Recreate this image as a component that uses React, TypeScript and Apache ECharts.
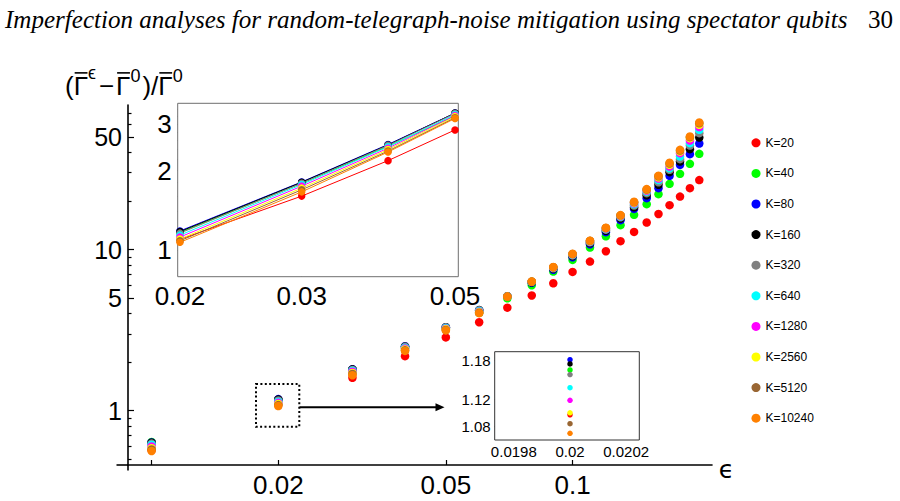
import React, { useEffect, useRef } from "react";
import * as echarts from "echarts";

// ε values (noise strength) at which the relative decoherence-rate change was evaluated
const EPSILON = [0.01, 0.02, 0.03, 0.04, 0.05, 0.06, 0.07, 0.08, 0.09, 0.1, 0.11, 0.12, 0.13, 0.14, 0.15, 0.16, 0.17, 0.18, 0.19, 0.2];

// (Γ̄^ε − Γ̄^0)/Γ̄^0 for each number of spectator samples K
const K20 = [0.57, 1.097, 1.6, 2.18, 2.85, 3.54, 4.36, 5.19, 6.18, 7.27, 8.42, 9.77, 11.28, 12.88, 14.72, 16.64, 18.87, 21.34, 24.06, 27.0];
const K40 = [0.64, 1.165, 1.79, 2.47, 3.22, 4.05, 4.98, 6.01, 7.3, 8.63, 10.29, 12.08, 14.18, 16.43, 19.14, 22.09, 25.59, 29.53, 34.07, 39.3];
const K80 = [0.635, 1.1805, 1.81, 2.51, 3.3, 4.2, 5.12, 6.22, 7.5, 8.97, 10.8, 12.83, 15.23, 17.89, 20.86, 24.06, 28.7, 33.59, 39.13, 45.5];
const K160 = [0.632, 1.174, 1.805, 2.5, 3.3, 4.21, 5.13, 6.27, 7.6, 9.1, 10.98, 13.1, 15.6, 18.29, 21.71, 25.23, 30.25, 35.21, 42.04, 49.6];
const K320 = [0.625, 1.158, 1.79, 2.49, 3.29, 4.2, 5.13, 6.3, 7.66, 9.2, 11.1, 13.3, 15.85, 18.77, 22.4, 26.2, 31.26, 36.42, 44.26, 52.8];
const K640 = [0.615, 1.138, 1.77, 2.46, 3.26, 4.16, 5.12, 6.31, 7.71, 9.28, 11.2, 13.42, 16.02, 19.1, 22.9, 27.0, 32.0, 37.82, 45.8, 55.4];
const K1280 = [0.6, 1.119, 1.745, 2.43, 3.23, 4.12, 5.11, 6.32, 7.74, 9.33, 11.27, 13.52, 16.15, 19.35, 23.2, 27.6, 32.78, 39.7, 47.53, 57.6];
const K2560 = [0.585, 1.1, 1.715, 2.4, 3.2, 4.09, 5.11, 6.33, 7.76, 9.37, 11.3, 13.58, 16.25, 19.55, 23.45, 28.1, 33.6, 40.6, 49.19, 59.5];
const K5120 = [0.575, 1.0835, 1.69, 2.37, 3.17, 4.06, 5.11, 6.33, 7.78, 9.39, 11.33, 13.62, 16.32, 19.7, 23.6, 28.5, 34.2, 41.2, 49.9, 60.8];
const K10240 = [0.562, 1.069, 1.66, 2.35, 3.15, 4.03, 5.11, 6.34, 7.8, 9.42, 11.36, 13.66, 16.38, 19.8, 23.75, 28.75, 34.6, 41.63, 50.34, 61.5];

const SERIES_NAMES = ["K=20", "K=40", "K=80", "K=160", "K=320", "K=640", "K=1280", "K=2560", "K=5120", "K=10240"];
const SERIES_VALUES = [K20, K40, K80, K160, K320, K640, K1280, K2560, K5120, K10240];
const SERIES_COLORS = ["#ff0000", "#00ff00", "#0000ff", "#000000", "#808080", "#00ffff", "#ff00ff", "#ffff00", "#996633", "#ff8000"];

// tick positions
const MAIN_X_TICKS = [0.01, 0.02, 0.05, 0.1];
const MAIN_X_LABELS = [0.02, 0.05, 0.1];
const MAIN_Y_MAJOR = [1, 5, 10, 50];
const MAIN_Y_MINOR = [0.5, 0.6, 0.7, 0.8, 0.9, 2, 3, 4, 6, 7, 8, 9, 20, 30, 40, 60, 70];
const INSET_X_TICKS = [0.02, 0.03, 0.05];
const INSET_Y_MAJOR = [1, 2, 3];
const INSET_Y_MINOR = [0.8, 1.2, 1.4, 1.6, 1.8, 2.2, 2.4, 2.6, 2.8, 3.2, 3.4];
const ZOOM_X_TICKS = [0.0198, 0.02, 0.0202];
const ZOOM_Y_TICKS = [1.08, 1.12, 1.18];

// ranges shown by the main plot and the two insets
const INSET_EPS_RANGE = [0.02, 0.05];
const ZOOM_EPS = 0.02;

const HEADER = "Imperfection analyses for random-telegraph-noise mitigation using spectator qubits";
const PAGE_NO = "30";

const SANS = '"Liberation Sans", Arial, sans-serif';
const SERIF = '"Liberation Serif", "Times New Roman", serif';

const fmt = (v: number) => String(parseFloat(Number(v).toPrecision(6)));

function measure(text: string, size: number, family: string, style = "") {
  const ctx = document.createElement("canvas").getContext("2d");
  if (!ctx) return text.length * size * 0.55;
  ctx.font = `${style} ${size}px ${family}`;
  return ctx.measureText(text).width;
}

// y-axis title (Γ̄^ϵ − Γ̄^0)/Γ̄^0 assembled from pieces, with bars drawn over each Γ
function yTitleGraphics(): any[] {
  const big = 26;
  const small = 18;
  const baseline = 95;
  const pieces: { t: string; sup?: boolean; bar?: boolean; padL?: number; padR?: number; base?: number }[] = [
    { t: "(" },
    { t: "Γ", bar: true },
    { t: "ϵ", sup: true, base: 79 },
    { t: "−", padL: 2, padR: 2 },
    { t: "Γ", bar: true },
    { t: "0", sup: true, base: 82 },
    { t: ")/", padL: 1 },
    { t: "Γ", bar: true },
    { t: "0", sup: true, base: 82 },
  ];
  const out: any[] = [];
  let x = 65;
  for (const p of pieces) {
    const size = p.sup ? small : big;
    x += p.padL || 0;
    const w = measure(p.t, size, SANS);
    const base = p.base ?? baseline;
    out.push({
      type: "text",
      x,
      y: base - 0.3465 * size,
      style: { text: p.t, fill: "#000", fontSize: size, fontFamily: SANS, align: "left", verticalAlign: "middle" },
    });
    if (p.bar) {
      out.push({
        type: "line",
        shape: { x1: x + 1, y1: baseline - 0.716 * big - 3.5, x2: x + w - 0.5, y2: baseline - 0.716 * big - 3.5 },
        style: { stroke: "#000", lineWidth: 1.6 },
      });
    }
    x += w + (p.padR || 0) + (p.sup ? 1 : 0);
  }
  return out;
}

function buildOption(): any {
  const headerSize0 = 20;
  const headerW = measure(HEADER, headerSize0, SERIF, "italic");
  const headerSize = headerSize0 * (843 / headerW);

  const pairs = (vals: number[]) => EPSILON.map((e, i) => [e, vals[i]]);
  const insetPairs = (vals: number[]) =>
    EPSILON.map((e, i) => [e, vals[i]]).filter(([e]) => e >= INSET_EPS_RANGE[0] - 1e-9 && e <= INSET_EPS_RANGE[1] + 1e-9);
  const zoomPairs = (vals: number[]) =>
    EPSILON.map((e, i) => [e, vals[i]]).filter(([e]) => Math.abs(e - ZOOM_EPS) < 1e-9);

  const mainSeries = SERIES_NAMES.map((name, k) => ({
    name,
    type: "scatter",
    xAxisIndex: 0,
    yAxisIndex: 0,
    symbol: "circle",
    symbolSize: 8.5,
    itemStyle: { color: SERIES_COLORS[k], opacity: 1 },
    data: pairs(SERIES_VALUES[k]),
    z: 2,
  }));
  const insetSeries = SERIES_NAMES.map((name, k) => ({
    name,
    type: "line",
    xAxisIndex: 1,
    yAxisIndex: 2,
    symbol: "circle",
    symbolSize: 7.5,
    showSymbol: true,
    lineStyle: { color: SERIES_COLORS[k], width: 1 },
    itemStyle: { color: SERIES_COLORS[k], borderWidth: 0 },
    data: insetPairs(SERIES_VALUES[k]),
    z: 5,
  }));
  const zoomSeries = SERIES_NAMES.map((name, k) => ({
    name,
    type: "scatter",
    xAxisIndex: 2,
    yAxisIndex: 4,
    symbol: "circle",
    symbolSize: 5.5,
    itemStyle: { color: SERIES_COLORS[k], opacity: 1 },
    data: zoomPairs(SERIES_VALUES[k]),
    z: 5,
  }));

  const tickStyle = (color = "#000", width = 1.2) => ({ color, width });
  const noSplit = { show: false };

  return {
    animation: false,
    backgroundColor: "#fff",
    textStyle: { fontFamily: SANS },
    grid: [
      { left: 128, right: 188, top: 105, bottom: 36 },
      { left: 177.7, right: 441.7, top: 103.3, bottom: 224.3, show: true, backgroundColor: "#fff", borderColor: "#6f6f6f", borderWidth: 1, z: 4 },
      { left: 494.7, right: 260.7, top: 351.7, bottom: 61, show: true, backgroundColor: "#fff", borderColor: "#333", borderWidth: 1, z: 4 },
    ],
    xAxis: [
      {
        type: "log", gridIndex: 0, min: 0.00879, max: 0.2144, position: "bottom",
        axisLine: { show: true, onZero: false, lineStyle: { color: "#000", width: 1.6 } },
        axisTick: { show: true, inside: true, length: 5, customValues: MAIN_X_TICKS, lineStyle: tickStyle() },
        axisLabel: { show: true, customValues: MAIN_X_LABELS, fontSize: 26, fontFamily: SANS, color: "#000", margin: 7, formatter: fmt },
        splitLine: noSplit, minorTick: { show: false },
      },
      {
        type: "log", gridIndex: 1, min: 0.01985, max: 0.05055, position: "bottom",
        axisLine: { show: false },
        axisTick: { show: true, inside: true, length: 5, customValues: INSET_X_TICKS, lineStyle: tickStyle("#555", 1) },
        axisLabel: { show: true, customValues: INSET_X_TICKS, fontSize: 26, fontFamily: SANS, color: "#000", margin: 6, formatter: fmt },
        splitLine: noSplit,
      },
      {
        type: "value", gridIndex: 2, min: 0.019732, max: 0.0202466, position: "bottom",
        axisLine: { show: false },
        axisTick: { show: true, inside: true, length: 4, customValues: ZOOM_X_TICKS, lineStyle: tickStyle("#555", 1) },
        axisLabel: { show: true, customValues: ZOOM_X_TICKS, fontSize: 15, fontFamily: SANS, color: "#000", margin: 4, formatter: fmt },
        splitLine: noSplit,
      },
    ],
    yAxis: [
      {
        type: "log", gridIndex: 0, min: 0.46, max: 79, position: "left",
        axisLine: { show: true, onZero: false, lineStyle: { color: "#000", width: 1.6 } },
        axisTick: { show: true, inside: true, length: 6, customValues: MAIN_Y_MAJOR, lineStyle: tickStyle() },
        axisLabel: { show: true, customValues: MAIN_Y_MAJOR, fontSize: 25, fontFamily: SANS, color: "#000", margin: 6, formatter: fmt },
        splitLine: noSplit,
      },
      {
        type: "log", gridIndex: 0, min: 0.46, max: 79, position: "left",
        axisLine: { show: false },
        axisTick: { show: true, inside: true, length: 3.5, customValues: MAIN_Y_MINOR, lineStyle: tickStyle() },
        axisLabel: { show: false },
        splitLine: noSplit,
      },
      {
        type: "log", gridIndex: 1, min: 0.792, max: 3.595, position: "left",
        axisLine: { show: false },
        axisTick: { show: true, inside: true, length: 6, customValues: INSET_Y_MAJOR, lineStyle: tickStyle("#555", 1) },
        axisLabel: { show: true, customValues: INSET_Y_MAJOR, fontSize: 26, fontFamily: SANS, color: "#000", margin: 6, formatter: fmt },
        splitLine: noSplit,
      },
      {
        type: "log", gridIndex: 1, min: 0.792, max: 3.595, position: "left",
        axisLine: { show: false },
        axisTick: { show: true, inside: true, length: 3.5, customValues: INSET_Y_MINOR, lineStyle: tickStyle("#555", 1) },
        axisLabel: { show: false },
        splitLine: noSplit,
      },
      {
        type: "value", gridIndex: 2, min: 1.0588, max: 1.1926, position: "left",
        axisLine: { show: false },
        axisTick: { show: true, inside: true, length: 4, customValues: ZOOM_Y_TICKS, lineStyle: tickStyle("#555", 1) },
        axisLabel: { show: true, customValues: ZOOM_Y_TICKS, fontSize: 15, fontFamily: SANS, color: "#000", margin: 4, formatter: fmt },
        splitLine: noSplit,
      },
    ],
    legend: {
      data: SERIES_NAMES.map((n) => ({ name: n, icon: "circle" })),
      orient: "vertical",
      left: 746.5,
      top: 131.8,
      itemWidth: 9,
      itemHeight: 9,
      itemGap: 18.6,
      selectedMode: false,
      textStyle: { fontSize: 12, fontFamily: SANS, color: "#000" },
    },
    series: [...mainSeries, ...insetSeries, ...zoomSeries],
    graphic: [
      {
        type: "text", x: 5, y: 19,
        style: { text: HEADER, fill: "#000", fontSize: headerSize, fontFamily: SERIF, fontStyle: "italic", align: "left", verticalAlign: "middle" },
      },
      {
        type: "text", x: 893, y: 19,
        style: { text: PAGE_NO, fill: "#000", fontSize: headerSize, fontFamily: SERIF, align: "right", verticalAlign: "middle" },
      },
      ...yTitleGraphics(),
      {
        type: "text", x: 726.5, y: 469,
        style: { text: "ϵ", fill: "#000", fontSize: 25, fontFamily: '"DejaVu Sans", sans-serif', align: "center", verticalAlign: "middle" },
      },
      // axis stubs past the crossing point
      { type: "line", shape: { x1: 116.5, y1: 465, x2: 128, y2: 465 }, style: { stroke: "#000", lineWidth: 1.6 } },
      { type: "line", shape: { x1: 128, y1: 465, x2: 128, y2: 470.5 }, style: { stroke: "#000", lineWidth: 1.6 } },
      // dotted frame around the ε = 0.02 cluster and arrow to the zoomed inset
      { type: "rect", shape: { x: 256, y: 384, width: 43.3, height: 42.7 }, style: { fill: "none", stroke: "#000", lineWidth: 2, lineDash: [2, 2.4] } },
      { type: "line", shape: { x1: 299.5, y1: 407.3, x2: 437, y2: 407.3 }, style: { stroke: "#000", lineWidth: 2 } },
      { type: "polygon", shape: { points: [[444.5, 407.3], [435.5, 403.3], [435.5, 411.3]] }, style: { fill: "#000" } },
    ],
  };
}

export default function App() {
  const ref = useRef<HTMLDivElement>(null);
  useEffect(() => {
    const el = ref.current;
    if (!el) return;
    const chart = echarts.init(el, null, { renderer: "svg" });
    chart.setOption(buildOption());
    return () => chart.dispose();
  }, []);
  return <div ref={ref} style={{ position: "absolute", left: 0, top: 0, width: 900, height: 501 }} />;
}
